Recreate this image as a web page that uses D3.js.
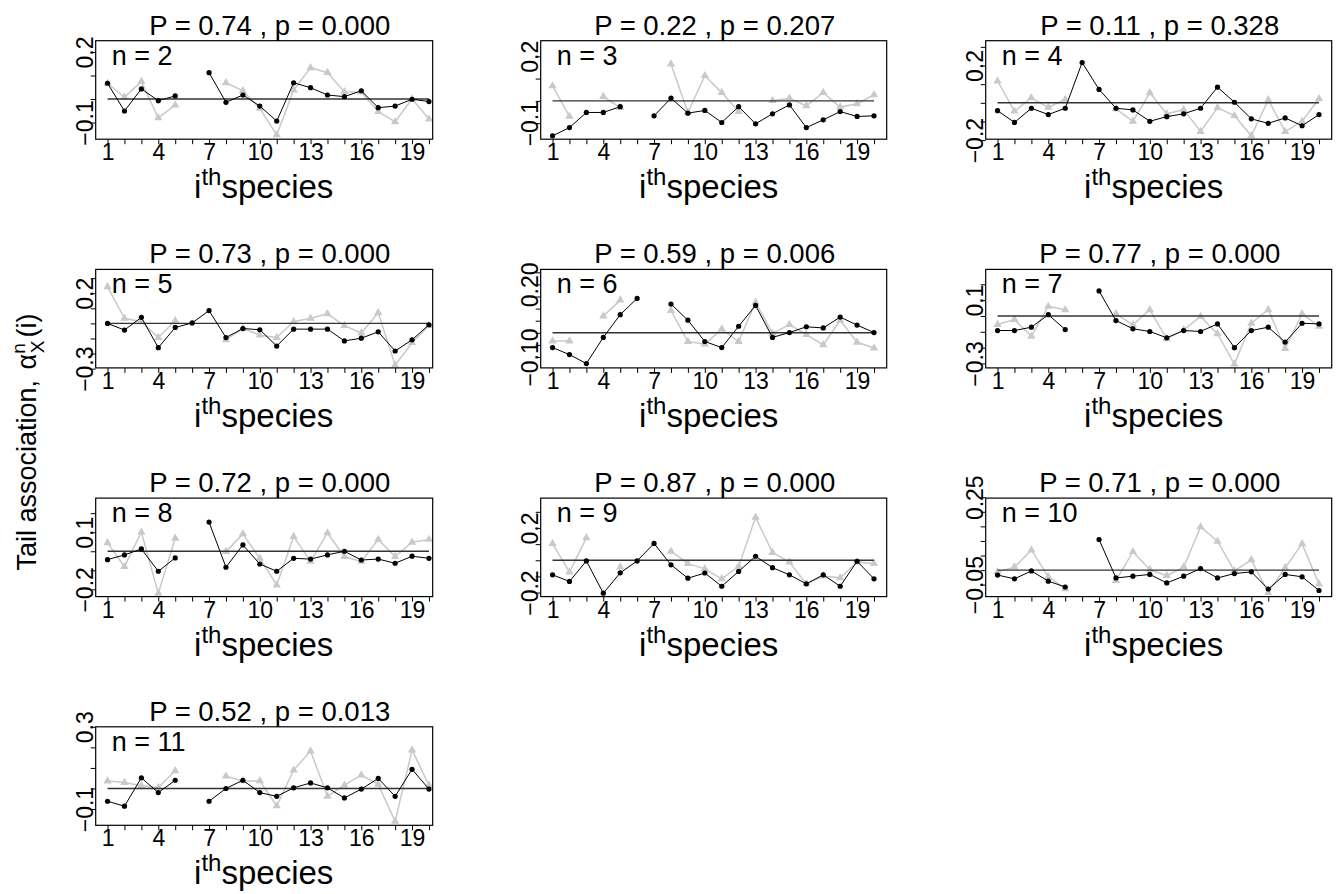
<!DOCTYPE html>
<html><head><meta charset="utf-8">
<script src="https://cdn.jsdelivr.net/npm/d3@7"></script>
<style>body{margin:0;background:#fff}svg{display:block}text{font-family:"Liberation Sans",Arial,Helvetica,sans-serif;fill:#000}</style>
</head><body><svg id="c" width="1336" height="894"></svg>
<script>
// ---------- data ----------
const species = d3.range(1, 21);
const xTickLabels = [1, 4, 7, 10, 13, 16, 19];
const panelN = [2, 3, 4, 5, 6, 7, 8, 9, 10, 11];
const statP = ["0.74", "0.22", "0.11", "0.73", "0.59", "0.77", "0.72", "0.87", "0.71", "0.52"];
const statp = ["0.000", "0.207", "0.328", "0.000", "0.006", "0.000", "0.000", "0.000", "0.000", "0.013"];
const refLine = [0, 0, 0, 0, 0, 0, 0, 0, 0, 0];

const black2 = [0.067,-0.051,0.043,-0.007,0.013,null,0.112,-0.014,0.017,-0.030,-0.094,0.069,0.048,0.017,0.010,0.035,-0.037,-0.030,-0.001,-0.011];
const gray2  = [0.067,0.007,0.074,-0.080,-0.026,null,null,0.069,0.035,-0.040,-0.153,0.038,0.133,0.112,0.031,0.029,-0.054,-0.097,0.000,-0.085];
const black3 = [-0.157,-0.120,-0.052,-0.052,-0.026,null,-0.067,0.012,-0.055,-0.043,-0.097,-0.026,-0.103,-0.058,-0.018,-0.120,-0.085,-0.048,-0.070,-0.067];
const gray3  = [0.067,-0.070,null,0.019,-0.030,null,null,0.165,-0.052,0.113,0.037,-0.048,null,0.001,0.012,-0.022,0.037,-0.028,-0.013,0.027];
const black4 = [-0.042,-0.105,-0.029,-0.063,-0.029,0.216,0.072,-0.029,-0.038,-0.099,-0.074,-0.059,-0.029,0.084,0.003,-0.086,-0.110,-0.081,-0.123,-0.063];
const gray4  = [0.117,-0.045,0.027,-0.024,0.018,null,null,-0.032,-0.099,0.054,-0.059,-0.036,-0.154,-0.027,-0.069,-0.177,0.016,-0.154,-0.099,0.022];
const black5 = [0.000,-0.044,0.040,-0.161,-0.027,0.003,0.085,-0.094,-0.034,-0.042,-0.150,-0.038,-0.038,-0.038,-0.116,-0.098,-0.056,-0.183,-0.109,-0.009];
const gray5  = [0.242,0.034,0.011,-0.094,0.018,null,null,-0.109,-0.034,-0.078,-0.094,0.011,0.034,0.063,-0.015,-0.064,0.070,-0.277,-0.128,-0.015];
const black6 = [-0.061,-0.090,-0.127,-0.019,0.075,0.142,null,0.119,0.052,-0.036,-0.061,0.027,0.113,-0.019,0.001,0.025,0.020,0.065,0.032,0.001];
const gray6  = [-0.034,-0.034,null,0.069,0.135,null,null,0.092,-0.036,-0.047,0.015,-0.036,0.126,-0.002,0.034,-0.007,-0.050,0.052,-0.039,-0.063];
const black7 = [-0.092,-0.092,-0.071,0.008,-0.086,null,0.158,-0.029,-0.081,-0.098,-0.138,-0.092,-0.098,-0.050,-0.200,-0.092,-0.071,-0.165,-0.046,-0.050];
const gray7  = [-0.054,-0.023,-0.128,0.060,0.039,null,null,0.013,-0.056,0.039,-0.144,-0.088,-0.004,-0.113,-0.304,-0.046,0.039,-0.206,0.013,-0.065];
const black8 = [-0.044,-0.019,0.012,-0.105,-0.035,null,0.153,-0.084,0.033,-0.067,-0.105,-0.037,-0.041,-0.019,0.000,-0.046,-0.041,-0.063,-0.026,-0.037];
const gray8  = [0.044,-0.081,0.100,-0.221,0.068,null,null,-0.002,0.091,-0.037,-0.177,0.077,-0.053,0.096,-0.028,-0.053,0.062,-0.028,0.047,0.062];
const black9 = [-0.090,-0.131,-0.004,-0.204,-0.078,-0.004,0.104,-0.028,-0.111,-0.079,-0.161,-0.069,0.025,-0.046,-0.090,-0.146,-0.090,-0.161,-0.006,-0.115];
const gray9  = [0.104,-0.073,0.139,null,-0.042,null,null,0.056,-0.021,-0.053,-0.115,-0.038,0.266,0.048,-0.011,-0.146,-0.098,-0.109,-0.011,-0.021];
const black10 = [-0.017,-0.030,-0.003,-0.038,-0.058,null,0.105,-0.027,-0.021,-0.015,-0.044,-0.021,0.005,-0.027,-0.012,-0.006,-0.065,-0.015,-0.023,-0.070];
const gray10  = [-0.006,0.010,0.069,-0.023,-0.064,null,null,-0.036,0.063,0.002,-0.019,0.010,0.148,0.099,-0.003,0.035,-0.077,0.008,0.090,-0.048];
const black11 = [-0.062,-0.086,0.052,-0.020,0.040,null,-0.062,0.000,0.040,-0.020,-0.038,0.003,0.027,0.003,-0.046,-0.003,0.049,-0.038,0.093,-0.003];
const gray11  = [0.036,0.029,0.013,0.005,0.086,null,null,0.060,0.037,0.037,-0.085,0.089,0.182,-0.038,0.016,0.065,0.020,-0.160,0.187,0.016];

// y-axis limits (bottom, top), tick values and tick label texts per panel
const yLim = [[-0.171,0.248],[-0.172,0.270],[-0.195,0.333],[-0.295,0.358],[-0.145,0.262],
              [-0.328,0.294],[-0.238,0.279],[-0.225,0.385],[-0.091,0.247],[-0.179,0.300]];
const yTicks = [
  [-0.1,0,0.1,0.2],
  [-0.1,0,0.1,0.2],
  [-0.2,-0.1,0,0.1,0.2,0.3],
  [-0.3,-0.2,-0.1,0,0.1,0.2,0.3],
  [-0.10,-0.05,0,0.05,0.10,0.15,0.20,0.25],
  [-0.3,-0.2,-0.1,0,0.1,0.2],
  [-0.2,-0.1,0,0.1,0.2],
  [-0.2,-0.1,0,0.1,0.2,0.3],
  [-0.05,0,0.05,0.10,0.15,0.20,0.25],
  [-0.1,0,0.1,0.2,0.3]
];
const yTickText = [
  ["−0.1","","","0.2"],
  ["−0.1","","","0.2"],
  ["−0.2","","","","0.2",""],
  ["−0.3","","","","","0.2",""],
  ["−0.10","","","","","","0.20",""],
  ["−0.3","","","","0.1",""],
  ["−0.2","","","0.1",""],
  ["−0.2","","","","0.2",""],
  ["−0.05","","","","","","0.25"],
  ["−0.1","","","","0.3"]
];

const blackSeries = [black2,black3,black4,black5,black6,black7,black8,black9,black10,black11];
const graySeries  = [gray2,gray3,gray4,gray5,gray6,gray7,gray8,gray9,gray10,gray11];

// ---------- drawing ----------
const svg = d3.select("#c");
svg.append("rect").attr("width",1336).attr("height",894).attr("fill","#fff");

const GRAY = "#c9c9c9";
const FONT = "'Liberation Sans', Arial, sans-serif";

panelN.forEach((n, i) => {
  const col = i % 3, row = Math.floor(i / 3);
  const L = 95.7 + col * 445, T = 40.7 + row * 228.7;
  const W = col === 0 ? 337 : 346, H = 98.5;
  const x = d3.scaleLinear().domain(col === 0 ? [0.3, 20.22] : [0.3, 20.75]).range([L, L + W]);
  const y = d3.scaleLinear().domain(yLim[i]).range([T + H, T]);
  const g = svg.append("g");

  const blk = species.map((s, k) => ({s, v: blackSeries[i][k]}));
  const gry = species.map((s, k) => ({s, v: graySeries[i][k]}));
  const line = d3.line().defined(d => d.v !== null).x(d => x(d.s)).y(d => y(d.v));

  // x axis
  const xa = g.append("g").attr("transform", `translate(0,${T + H})`)
    .call(d3.axisBottom(x).tickValues(species).tickSize(5)
      .tickFormat(d => xTickLabels.includes(d) ? d : ""));
  xa.select(".domain").remove();
  xa.selectAll("line").attr("stroke", "#000").attr("stroke-width", 1);
  xa.selectAll("text").attr("y", 21).attr("dy", 0).attr("font-size", 23)
    .attr("font-family", FONT).attr("fill", "#000");

  // y axis
  const ya = g.append("g").attr("transform", `translate(${L},0)`)
    .call(d3.axisLeft(y).tickValues(yTicks[i]).tickSize(5)
      .tickFormat((d, k) => yTickText[i][k]));
  ya.select(".domain").remove();
  ya.selectAll("line").attr("stroke", "#000").attr("stroke-width", 1);
  ya.selectAll("text").attr("x", 0).attr("y", 0).attr("dy", 0)
    .attr("transform", "translate(-3,0) rotate(-90)")
    .attr("text-anchor", "middle").attr("font-size", 23)
    .attr("font-family", FONT).attr("fill", "#000");

  // gray series
  g.append("path").datum(gry).attr("d", line).attr("fill", "none")
    .attr("stroke", GRAY).attr("stroke-width", 1.5);
  g.selectAll(".tri").data(gry.filter(d => d.v !== null)).join("path")
    .attr("transform", d => `translate(${x(d.s)},${y(d.v)})`)
    .attr("d", d3.symbol(d3.symbolTriangle, 30)).attr("fill", GRAY);

  // reference line
  g.append("line").attr("x1", x(1)).attr("x2", x(20))
    .attr("y1", y(refLine[i])).attr("y2", y(refLine[i]))
    .attr("stroke", "#333").attr("stroke-width", 1.4);

  // black series
  g.append("path").datum(blk).attr("d", line).attr("fill", "none")
    .attr("stroke", "#000").attr("stroke-width", 1);
  g.selectAll(".dot").data(blk.filter(d => d.v !== null)).join("circle")
    .attr("cx", d => x(d.s)).attr("cy", d => y(d.v)).attr("r", 2.6).attr("fill", "#000");

  // box
  g.append("rect").attr("x", L).attr("y", T).attr("width", W).attr("height", H)
    .attr("fill", "none").attr("stroke", "#000").attr("stroke-width", 1.2);

  // texts
  g.append("text").attr("x", L + 16).attr("y", T + 24).attr("font-size", 27)
    .attr("font-family", FONT).text(`n = ${n}`);
  g.append("text").attr("x", L + 174).attr("y", T - 6).attr("text-anchor", "middle")
    .attr("font-size", 27.5).attr("font-family", FONT)
    .text(`P = ${statP[i]} , p = ${statp[i]}`);
  const xl = g.append("text").attr("x", L + 168).attr("y", T + H + 59)
    .attr("text-anchor", "middle").attr("font-size", 33).attr("font-family", FONT);
  xl.append("tspan").text("i");
  xl.append("tspan").attr("dy", -13).attr("font-size", 24).text("th");
  xl.append("tspan").attr("dy", 13).text("species");
});

// shared y label
const yl = svg.append("text").attr("transform", "translate(36,442) rotate(-90)")
  .attr("text-anchor", "middle").attr("font-size", 27).attr("font-family", FONT);
yl.append("tspan").text("Tail association, ");
yl.append("tspan").attr("dx", 3).text("α");
yl.append("tspan").attr("dy", -11).attr("font-size", 19).text("n");
yl.append("tspan").attr("dx", -10).attr("dy", 19).attr("font-size", 19).text("X");
yl.append("tspan").attr("dx", 3).attr("dy", -8).text("(i)");
</script></body></html>
